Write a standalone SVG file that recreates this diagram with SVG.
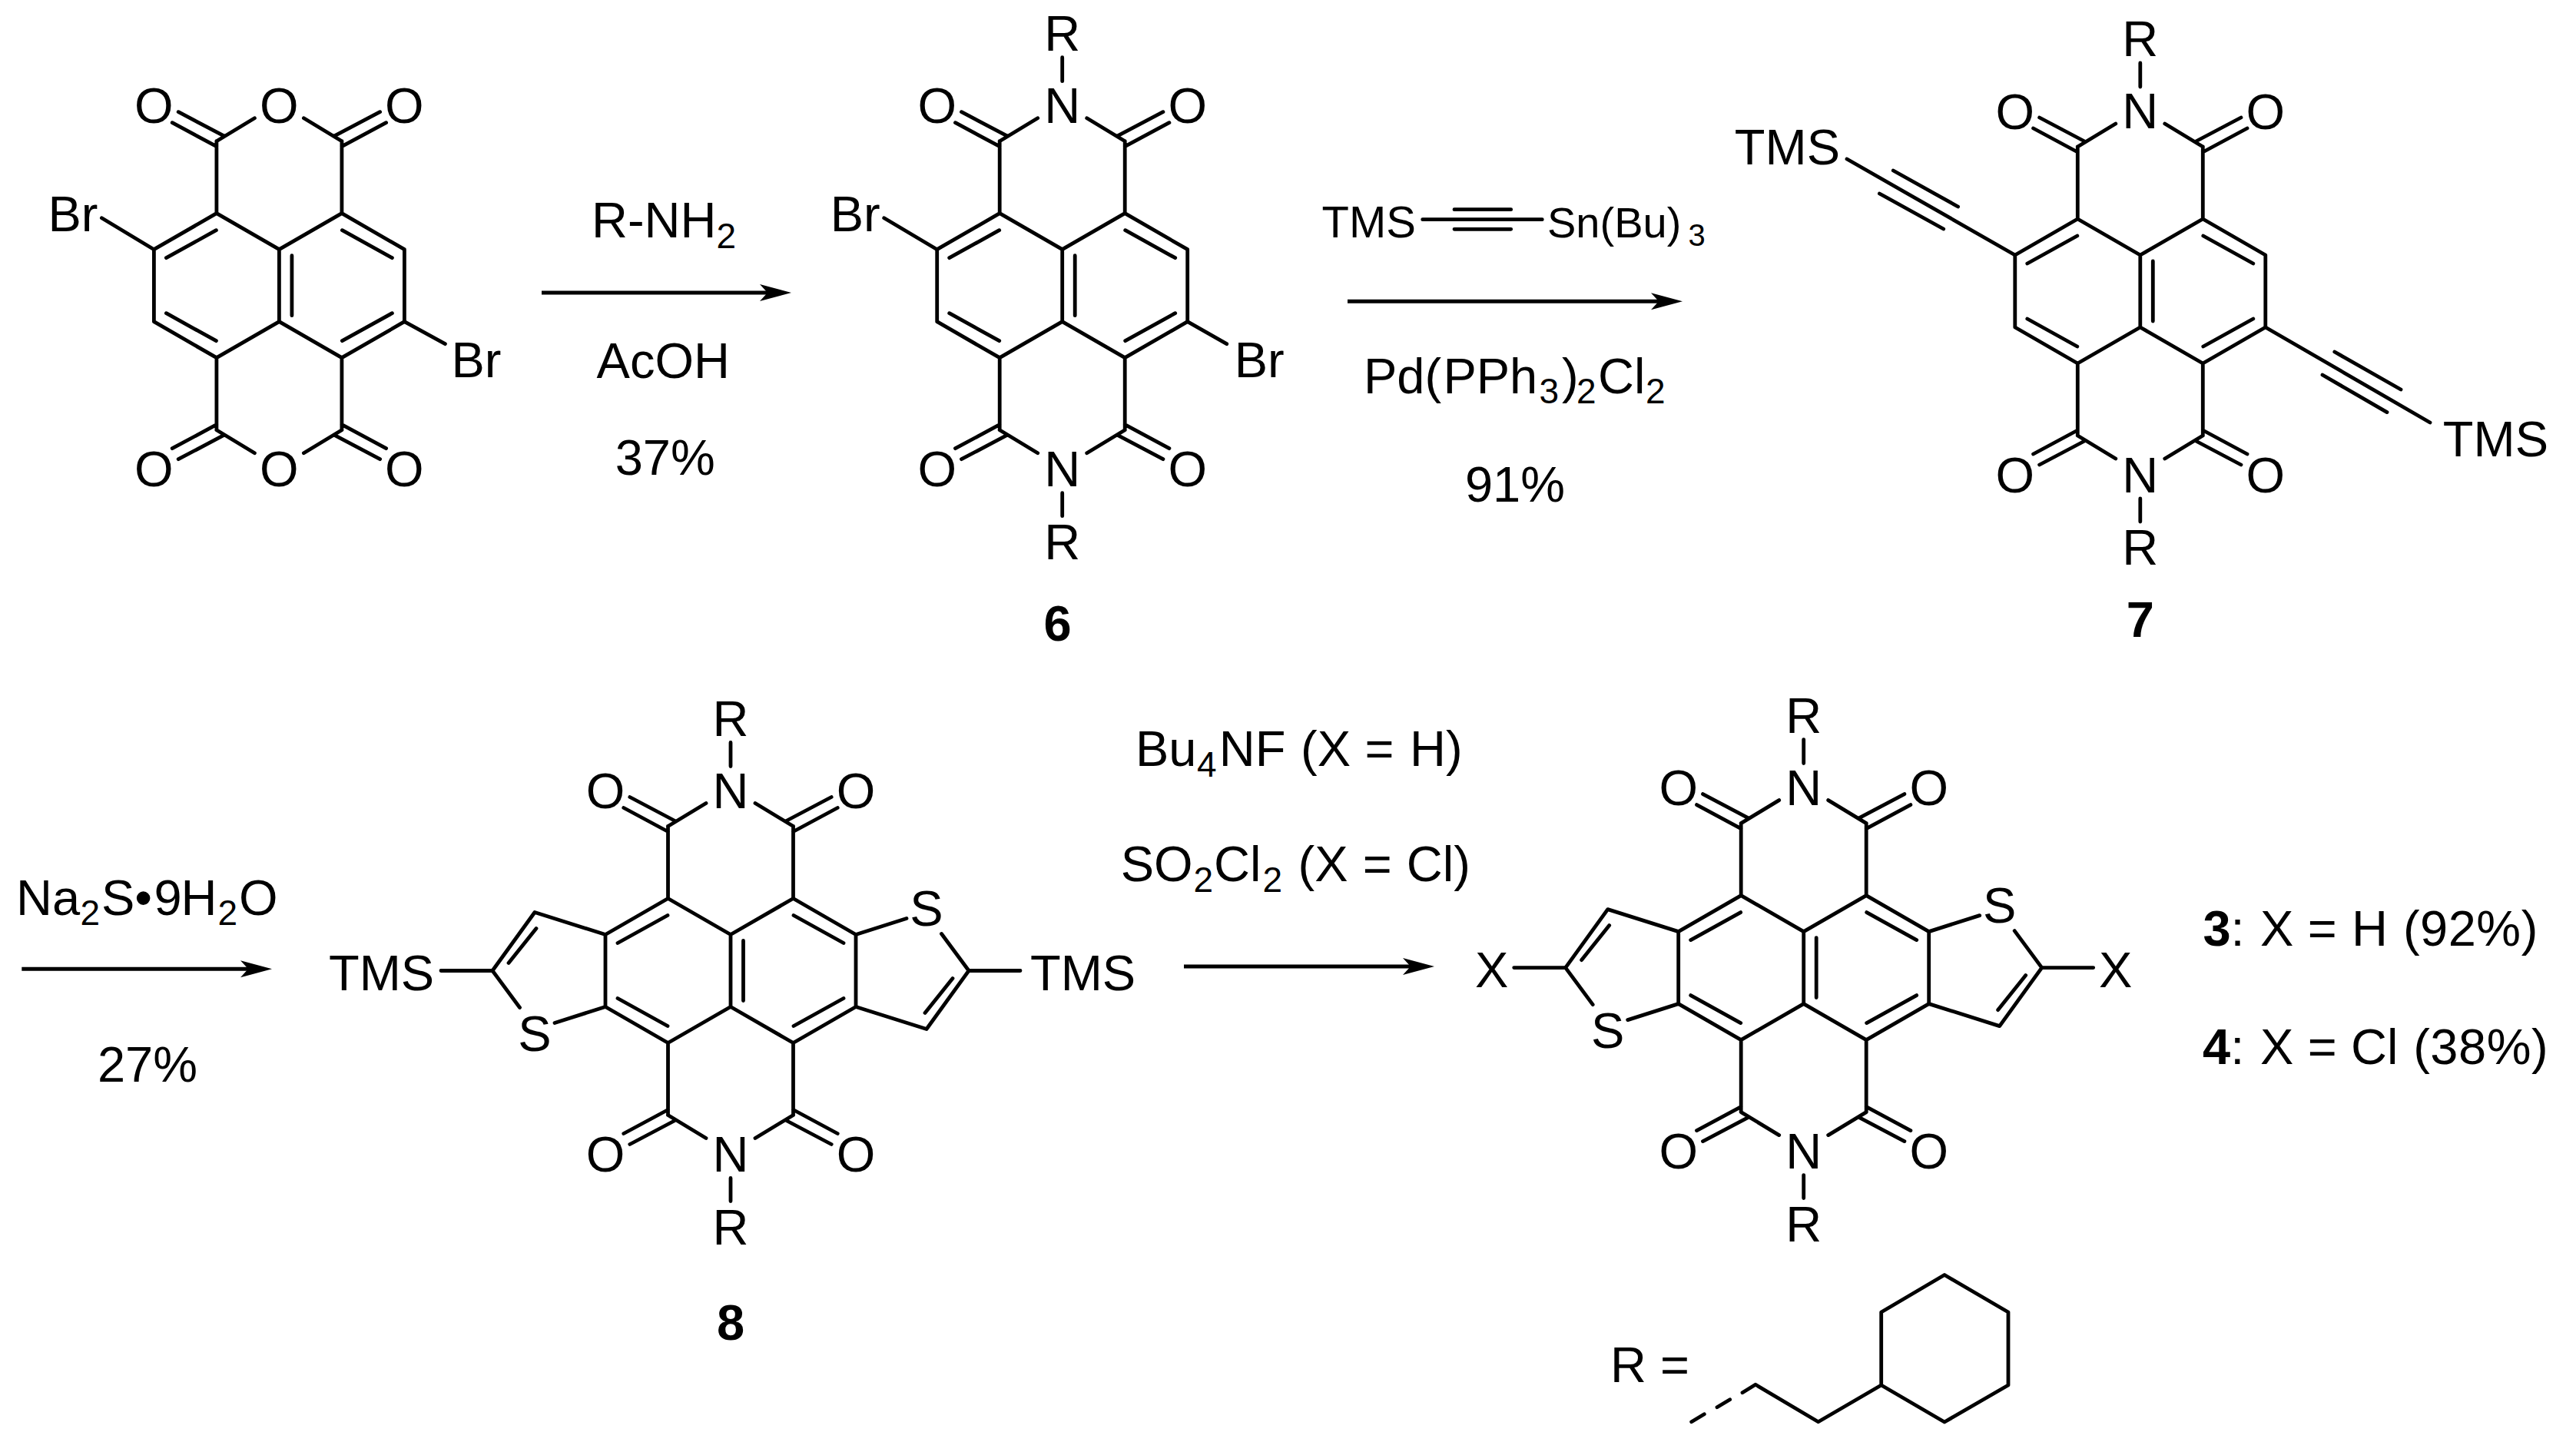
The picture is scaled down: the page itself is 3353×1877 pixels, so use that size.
<svg xmlns="http://www.w3.org/2000/svg" xmlns:xlink="http://www.w3.org/1999/xlink" width="3353" height="1877" viewBox="0 0 3353 1877">
<style>
text{font-family:"Liberation Sans",Arial,sans-serif;font-size:65px;fill:#000}
.m{text-anchor:middle}
.b{font-weight:bold}
.s{font-size:46px}
.ls{letter-spacing:.5px}
.r{font-size:58px}
.r2{font-size:56px}
.rs{font-size:40px}
.bond{fill:none;stroke:#000;stroke-width:4.8;stroke-linejoin:round;stroke-linecap:round}
.arrow{fill:none;stroke:#000;stroke-width:5;marker-end:url(#head)}
</style>
<defs>
<marker id="head" markerUnits="userSpaceOnUse" markerWidth="44" markerHeight="24" refX="21" refY="11" orient="auto"><path d="M0,0L41,11L0,22L10,11Z" fill="#000"/></marker>
<path id="core" class="bond" d="M0,-47V47M0,-47L-81.5,-94L-163,-47V47L-81.5,94L0,47L81.5,94L163,47V-47L81.5,-94L0,-47M16.5,-39V39M-82,-72L-147,-36M-147,36L-82,72M82,-72L147,-36M147,36L82,72M-81.5,-94V-188M81.5,-94V-188M-81.5,94V188M81.5,94V188M-71.5,-194.5L-131.2,-226M-81.5,-181L-139.2,-212M71.5,-194.5L131.2,-226M81.5,-181L139.2,-212M-71.5,194.5L-131.2,226M-81.5,181L-139.2,212M71.5,194.5L131.2,226M81.5,181L139.2,212M-81.5,-188L-32,-218M81.5,-188L32,-218M-81.5,188L-32,218M81.5,188L32,218"/>
<g id="carbonyls"><text class="m" x="-163" y="-211.5">O</text><text class="m" x="163" y="-211.5">O</text><text class="m" x="-163" y="261.5">O</text><text class="m" x="163" y="261.5">O</text></g>
<g id="imideN"><path class="bond" d="M0,-297V-266M0,270V300"/><text class="m" x="0" y="-212">N</text><text class="m" x="0" y="261.5">N</text><text class="m" x="0" y="-306">R</text><text class="m" x="0" y="356">R</text></g>
<g id="thiophenes"><path class="bond" d="M-163,-47L-255,-76L-310,0L-274.5,48M-229,68L-163,47M-253,-55L-289,-10M163,47L255,76L310,0L274.5,-48M229,-68L163,-47M253,55L289,10"/><text class="m" x="-255" y="104.5">S</text><text class="m" x="255" y="-58.5">S</text></g>
</defs>

<g id="connectors">
<line class="arrow" x1="705" y1="381" x2="1010" y2="381"/>
<line class="arrow" x1="1754" y1="392.3" x2="2170" y2="392.3"/>
<line class="arrow" x1="28.3" y1="1261.3" x2="334" y2="1261.3"/>
<line class="arrow" x1="1541" y1="1258" x2="1847" y2="1258"/>
</g>

<g id="dianhydride" transform="translate(363.4,371.7)">
<use href="#core" xlink:href="#core"/>
<use href="#carbonyls" xlink:href="#carbonyls"/>
<text class="m" x="0" y="-211.5">O</text><text class="m" x="0" y="261.5">O</text>
<path class="bond" d="M-163,-47L-231,-88M163,47L216,76"/>
<text x="-301" y="-71">Br</text><text x="224" y="119">Br</text>
</g>

<g id="compound-6" transform="translate(1382.7,371.7)">
<use href="#core" xlink:href="#core"/>
<use href="#carbonyls" xlink:href="#carbonyls"/>
<use href="#imideN" xlink:href="#imideN"/>
<path class="bond" d="M-163,-47L-232,-88M163,47L214,76"/>
<text x="-302" y="-71">Br</text><text x="224" y="119">Br</text>
<text class="m b" x="-6" y="462">6</text>
</g>

<g id="compound-7" transform="translate(2785.8,379)">
<use href="#core" xlink:href="#core"/>
<use href="#carbonyls" xlink:href="#carbonyls"/>
<use href="#imideN" xlink:href="#imideN"/>
<path class="bond" d="M-163,-47L-381.8,-172M-321.5,-157L-237.2,-110M-339.4,-127L-256.1,-81M163,47L377.2,171M253,79L339.2,128M237.2,109L321.2,157.6"/>
<text x="-528" y="-165">TMS</text><text x="394" y="214.5">TMS</text>
<text class="m b" x="0" y="450">7</text>
</g>

<g id="compound-8" transform="translate(951,1263.5)">
<use href="#core" xlink:href="#core"/>
<use href="#carbonyls" xlink:href="#carbonyls"/>
<use href="#imideN" xlink:href="#imideN"/>
<use href="#thiophenes" xlink:href="#thiophenes"/>
<path class="bond" d="M-310,0H-377M310,0H377"/>
<text x="-523" y="25">TMS</text><text x="390" y="25">TMS</text>
<text class="m b" x="0" y="480">8</text>
</g>

<g id="compound-3-4" transform="translate(2347.7,1259.6)">
<use href="#core" xlink:href="#core"/>
<use href="#carbonyls" xlink:href="#carbonyls"/>
<use href="#imideN" xlink:href="#imideN"/>
<use href="#thiophenes" xlink:href="#thiophenes"/>
<path class="bond" d="M-310,0H-377M310,0H377"/>
<text class="m" x="-406" y="25">X</text><text class="m" x="406" y="25">X</text>
</g>

<g id="r-group">
<text x="2096" y="1799.3">R =</text>
<path class="bond" d="M2531,1659.5L2614,1708V1803L2531,1851L2448.7,1803V1708ZM2448.7,1803L2366.7,1850.7L2285,1802.3L2268,1812.7M2251.7,1821.7L2235,1831.7M2218.3,1840.7L2201.7,1850.7"/>
</g>

<g id="step-1-labels">
<text x="770" y="309.3">R-NH<tspan class="s" y="323.3">2</tspan></text>
<text class="m" x="863.3" y="491.7">AcOH</text>
<text class="m" x="865.7" y="618.3">37%</text>
</g>

<g id="step-2-labels">
<text class="r" x="1720.5" y="309.3">TMS</text>
<path class="bond" d="M1851.7,285.7H2007.3M1893,272.7H1966.7M1893,298.3H1966.7"/>
<text class="r2" x="2014" y="309.3">Sn(Bu)<tspan class="rs" x="2197.5" y="320.3">3</tspan></text>
<text y="511.7"><tspan x="1775">Pd(</tspan><tspan x="1878.4">PPh</tspan><tspan class="s" x="2003.6" y="525">3</tspan><tspan x="2033" y="511.7">)</tspan><tspan class="s" x="2052" y="525">2</tspan><tspan x="2080" y="511.7">Cl</tspan><tspan class="s" x="2142" y="525">2</tspan></text>
<text class="m" x="1972" y="653">91%</text>
</g>

<g id="step-3-labels">
<text y="1190.7"><tspan x="21">Na</tspan><tspan class="s" x="104.6" y="1204">2</tspan><tspan x="132" y="1190.7">S•</tspan><tspan x="200.6">9</tspan><tspan x="235.6">H</tspan><tspan class="s" x="283.6" y="1204">2</tspan><tspan x="311" y="1190.7">O</tspan></text>
<text class="m" x="192" y="1408.3">27%</text>
</g>

<g id="step-4-labels">
<text y="996.7"><tspan x="1478">Bu</tspan><tspan class="s" x="1558" y="1011">4</tspan><tspan x="1586.7" y="996.7">NF</tspan><tspan x="1693">(X</tspan><tspan x="1776.4">=</tspan><tspan x="1835">H)</tspan></text>
<text y="1147.3"><tspan x="1458.7">SO</tspan><tspan class="s" x="1553.6" y="1160.5">2</tspan><tspan x="1580" y="1147.3">Cl</tspan><tspan class="s" x="1643.6" y="1160.5">2</tspan><tspan x="1689.5" y="1147.3">(X</tspan><tspan x="1773.7">=</tspan><tspan x="1830.8">Cl)</tspan></text>
</g>

<g id="yields">
<text y="1230.7"><tspan class="b" x="2867.4">3</tspan><tspan>:</tspan><tspan x="2942">X</tspan><tspan x="3003.7">=</tspan><tspan x="3061">H</tspan><tspan class="ls" x="3127.9">(92%)</tspan></text>
<text y="1385"><tspan class="b" x="2867">4</tspan><tspan>:</tspan><tspan x="2942">X</tspan><tspan x="3003.7">=</tspan><tspan x="3060">Cl</tspan><tspan class="ls" x="3141.2">(38%)</tspan></text>
</g>
</svg>
